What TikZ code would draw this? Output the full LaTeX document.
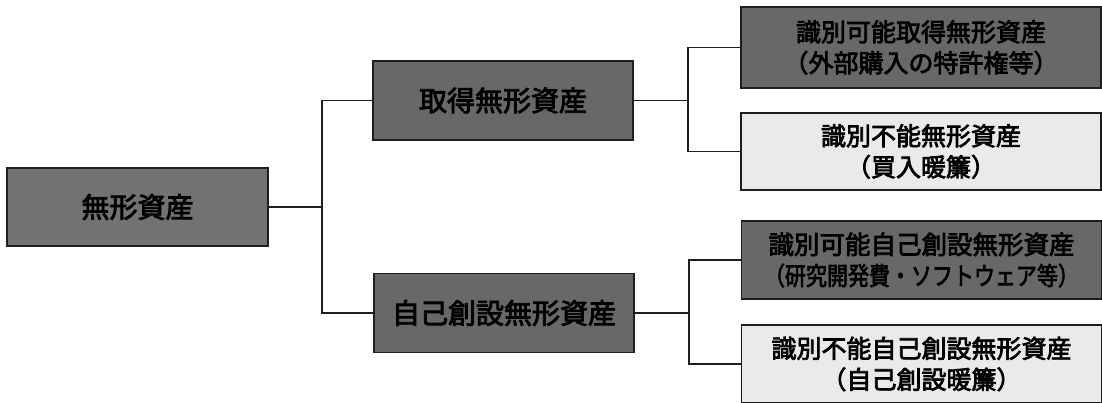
\documentclass[tikz,border=0pt]{standalone}
\usepackage{fontspec}
\newfontfamily\jpfont[FakeBold=3]{Noto Sans CJK JP}
\definecolor{darkfill}{HTML}{686868}
\definecolor{rootfill}{HTML}{727272}
\definecolor{lightfill}{HTML}{EAEAEA}
\definecolor{edge}{HTML}{1E1E1E}
\begin{document}
\begin{tikzpicture}[x=1pt,y=-1pt,
  box/.style={draw=edge, line width=1.8pt, inner sep=0pt, align=center, text=black},
  darkbox/.style={box, fill=darkfill},
  rootbox/.style={box, fill=rootfill},
  lightbox/.style={box, fill=lightfill},
  midsize/.style={minimum width=260pt, minimum height=79pt, font=\jpfont\fontsize{28}{32}\selectfont},
  rightsize/.style={minimum width=360pt, minimum height=79pt, font=\jpfont\fontsize{25}{31}\selectfont},
  link/.style={draw=edge, line width=1.5pt}
]
\useasboundingbox (0,0) rectangle (1102,402);
\node[rootbox, midsize, minimum width=261pt, minimum height=78pt] (root) at (137.5,207) {無形資産};
\node[darkbox, midsize] (mid1) at (503,100.5) {取得無形資産};
\node[darkbox, midsize] (mid2) at (504,313) {自己創設無形資産};
\node[darkbox, rightsize, minimum height=81pt] (r1) at (921,47.5) {識別可能取得無形資産\\（外部購入の特許権等）};
\node[lightbox, rightsize, minimum height=77pt] (r2) at (921,151.5) {識別不能無形資産\\（買入暖簾）};
\node[darkbox, rightsize, minimum height=78pt] (r3) at (921.5,260) {\fontsize{25.5}{31}\selectfont 識別可能自己創設無形資産\\\scalebox{0.84}[1]{（研究開発費・ソフトウェア等）}};
\node[lightbox, rightsize, minimum height=78pt] (r4) at (921.5,364) {\raisebox{2pt}{識別不能自己創設無形資産}\\\raisebox{2pt}{（自己創設暖簾）}};
\draw[link] (root.east) -- ++(53,0) |- (mid1.west);
\draw[link] (root.east) -- ++(53,0) |- (mid2.west);
\draw[link] (mid1.east) -- ++(54,0) |- (r1.west);
\draw[link] (mid1.east) -- ++(54,0) |- (r2.west);
\draw[link] (mid2.east) -- ++(54,0) |- (r3.west);
\draw[link] (mid2.east) -- ++(54,0) |- (r4.west);
\end{tikzpicture}
\end{document}
